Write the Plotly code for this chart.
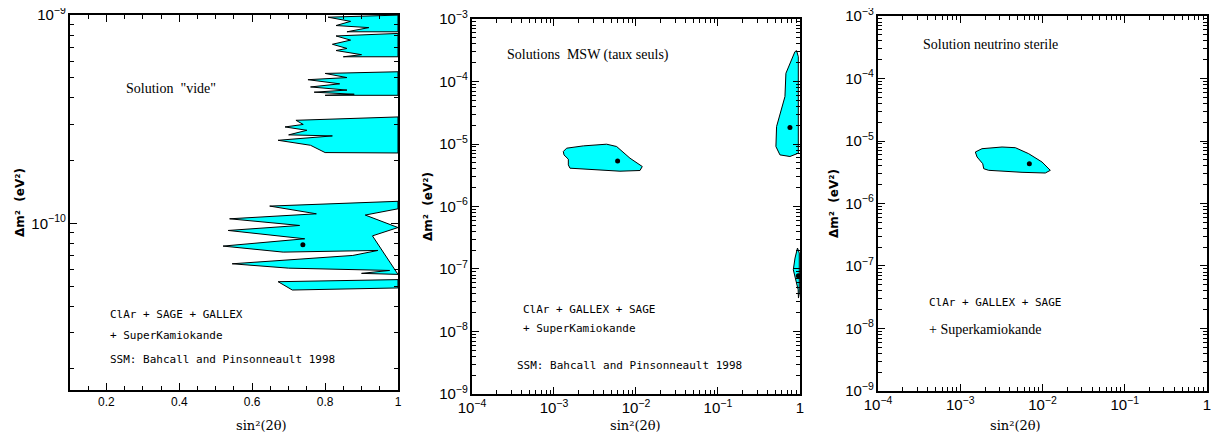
import plotly.graph_objects as go

# ---- panel 1 : vacuum solution (x linear, y = log10(dm2)) ----
vac_islands_x = [
    [1.0, 0.648, 0.776, 0.538, 0.73, 0.534, 0.744, 0.52, 0.685, 0.945, 0.876, 0.545, 0.70, 0.977, 0.90, 1.0, 0.93, 1.0, 0.91, 1.0],
    [1.0, 0.671, 0.71, 1.0],
    [1.0, 0.72, 0.74, 0.69, 0.75, 0.70, 0.82, 0.671, 0.76, 0.80, 1.0],
    [1.0, 0.80, 0.86, 0.753, 0.84, 0.76, 0.86, 0.77, 0.88, 0.80, 1.0],
    [1.0, 0.83, 0.87, 0.82, 0.86, 0.83, 0.90, 0.85, 1.0],
    [1.0, 0.808, 0.87, 0.83, 0.92, 0.86, 1.0],
]
vac_islands_logy = [
    [-9.894, -9.917, -9.954, -9.978, -10.01, -10.034, -10.074, -10.109, -10.138, -10.13, -10.154, -10.194, -10.215, -10.226, -10.24, -10.245, -10.06, -10.02, -9.96, -9.93],
    [-10.27, -10.28, -10.32, -10.31],
    [-9.489, -9.505, -9.525, -9.537, -9.553, -9.575, -9.58, -9.601, -9.625, -9.66, -9.662],
    [-9.272, -9.28, -9.30, -9.31, -9.33, -9.345, -9.36, -9.37, -9.38, -9.385, -9.385],
    [-9.088, -9.10, -9.12, -9.14, -9.16, -9.17, -9.19, -9.20, -9.20],
    [-9.0, -9.01, -9.03, -9.05, -9.06, -9.08, -9.08],
]
vac_best = (0.739, -10.103)

# ---- panel 2 : MSW solutions (log10 x, log10 y) ----
msw_islands_logx = [
    [-2.886, -2.846, -2.642, -2.358, -2.236, -2.073, -1.923, -1.951, -2.195, -2.805, -2.825, -2.825, -2.878],
    [-0.041, -0.020, -0.020, -0.122, -0.244, -0.293, -0.285, -0.183, -0.171, -0.122, -0.061],
    [-0.030, -0.008, -0.008, -0.018, -0.022, -0.081, -0.060],
]
msw_islands_logy = [
    [-5.120, -5.067, -5.030, -5.003, -5.040, -5.227, -5.360, -5.424, -5.435, -5.387, -5.334, -5.243, -5.174],
    [-3.506, -3.602, -5.147, -5.200, -5.174, -5.041, -4.721, -4.241, -3.868, -3.709, -3.522],
    [-6.665, -6.745, -7.385, -7.465, -7.331, -7.012, -6.825],
]
msw_best_logx = [-2.224, -0.122, -0.020]
msw_best_logy = [-5.27, -4.737, -7.108]

# ---- panel 3 : sterile neutrino ----
ster_logx = [-2.817, -2.736, -2.492, -2.330, -2.168, -2.006, -1.905, -1.966, -2.249, -2.655, -2.715, -2.727, -2.796]
ster_logy = [-5.176, -5.123, -5.096, -5.107, -5.203, -5.336, -5.469, -5.512, -5.501, -5.469, -5.443, -5.363, -5.256]
ster_best = (-2.160, -5.363)

CYAN = "#00ffff"
fig = go.Figure()

def island(x, y, xa, ya):
    fig.add_trace(go.Scatter(x=x + [x[0]], y=y + [y[0]], mode="lines", fill="toself",
                             fillcolor=CYAN, line=dict(color="black", width=1),
                             xaxis=xa, yaxis=ya, showlegend=False, hoverinfo="skip"))

def dot(x, y, xa, ya):
    fig.add_trace(go.Scatter(x=x, y=y, mode="markers", marker=dict(color="black", size=5),
                             xaxis=xa, yaxis=ya, showlegend=False))

for xs, ys in zip(vac_islands_x, vac_islands_logy):
    island(xs, [10 ** v for v in ys], "x", "y")
dot([vac_best[0]], [10 ** vac_best[1]], "x", "y")

for xs, ys in zip(msw_islands_logx, msw_islands_logy):
    island([10 ** v for v in xs], [10 ** v for v in ys], "x2", "y2")
dot([10 ** v for v in msw_best_logx], [10 ** v for v in msw_best_logy], "x2", "y2")

island([10 ** v for v in ster_logx], [10 ** v for v in ster_logy], "x3", "y3")
dot([10 ** ster_best[0]], [10 ** ster_best[1]], "x3", "y3")

tick_font = dict(family="Liberation Sans", size=12, color="black")
common = dict(showline=True, linecolor="black", linewidth=1.5, mirror="ticks", ticks="inside",
              ticklen=7, tickwidth=1, tickcolor="black", showgrid=False, zeroline=False,
              tickfont=tick_font, exponentformat="power", automargin=False,
              ticklabeloverflow="allow")
minor = dict(ticks="inside", ticklen=4, tickcolor="black", showgrid=False)
ytitle = dict(text="Δm²  (eV²)", font=dict(family="DejaVu Sans", size=12, weight="bold", color="black"), standoff=4)
E = 0.0005

fig.update_layout(
    width=1206, height=425, margin=dict(l=0, r=0, t=0, b=0),
    plot_bgcolor="white", paper_bgcolor="white",
    xaxis=dict(common, domain=[0.0514, 0.3234], range=[0.1, 1.0001], dtick=0.2, tick0=0,
               minor=dict(minor, dtick=0.05), anchor="y"),
    yaxis=dict(common, domain=[0.1012, 0.9835], type="log", range=[-10.8, -9 + E], dtick=1,
               minor=minor, title=ytitle, anchor="x"),
    xaxis2=dict(common, domain=[0.3847, 0.6567], type="log", range=[-4 - E, E], dtick=1,
                minor=minor, anchor="y2"),
    yaxis2=dict(common, domain=[0.0918, 0.9741], type="log", range=[-9 - E, -3 + E], dtick=1,
                minor=minor, title=ytitle, anchor="x2"),
    xaxis3=dict(common, domain=[0.7214, 0.9942], type="log", range=[-4 - E, E], dtick=1,
                minor=minor, anchor="y3"),
    yaxis3=dict(common, domain=[0.0988, 0.9812], type="log", range=[-9 - E, -3 + E], dtick=1,
                minor=minor, title=ytitle, anchor="x3"),
)

for xc in [0.1874, 0.5207, 0.8578]:
    fig.add_annotation(xref="paper", yref="paper", x=xc, y=0, yanchor="bottom", yshift=-2,
                       text="sin²(2θ)", showarrow=False,
                       font=dict(family="DejaVu Serif", size=13, color="black"))

serif = dict(family="Liberation Serif", size=14, color="black")
mono = dict(family="DejaVu Sans Mono", size=11, color="black")
notes = [
    ("x domain", "y domain", 0.165, 0.805, "Solution  \"vide\"", serif),
    ("x domain", "y domain", 0.115, 0.2, "ClAr + SAGE + GALLEX", mono),
    ("x domain", "y domain", 0.115, 0.145, "+ SuperKamiokande", mono),
    ("x domain", "y domain", 0.115, 0.08, "SSM: Bahcall and Pinsonneault 1998", mono),
    ("x2 domain", "y2 domain", 0.1, 0.905, "Solutions  MSW (taux seuls)", serif),
    ("x2 domain", "y2 domain", 0.15, 0.225, "ClAr + GALLEX + SAGE", mono),
    ("x2 domain", "y2 domain", 0.15, 0.175, "+ SuperKamiokande", mono),
    ("x2 domain", "y2 domain", 0.13, 0.075, "SSM: Bahcall and Pinsonneault 1998", mono),
    ("x3 domain", "y3 domain", 0.13, 0.925, "Solution neutrino sterile", serif),
    ("x3 domain", "y3 domain", 0.15, 0.235, "ClAr + GALLEX + SAGE", mono),
    ("x3 domain", "y3 domain", 0.15, 0.165, "+ Superkamiokande", serif),
]
for xr, yr, x, y, t, f in notes:
    fig.add_annotation(xref=xr, yref=yr, x=x, y=y, text=t, showarrow=False,
                       xanchor="left", yanchor="middle", font=f)

fig.write_html("out.html")
